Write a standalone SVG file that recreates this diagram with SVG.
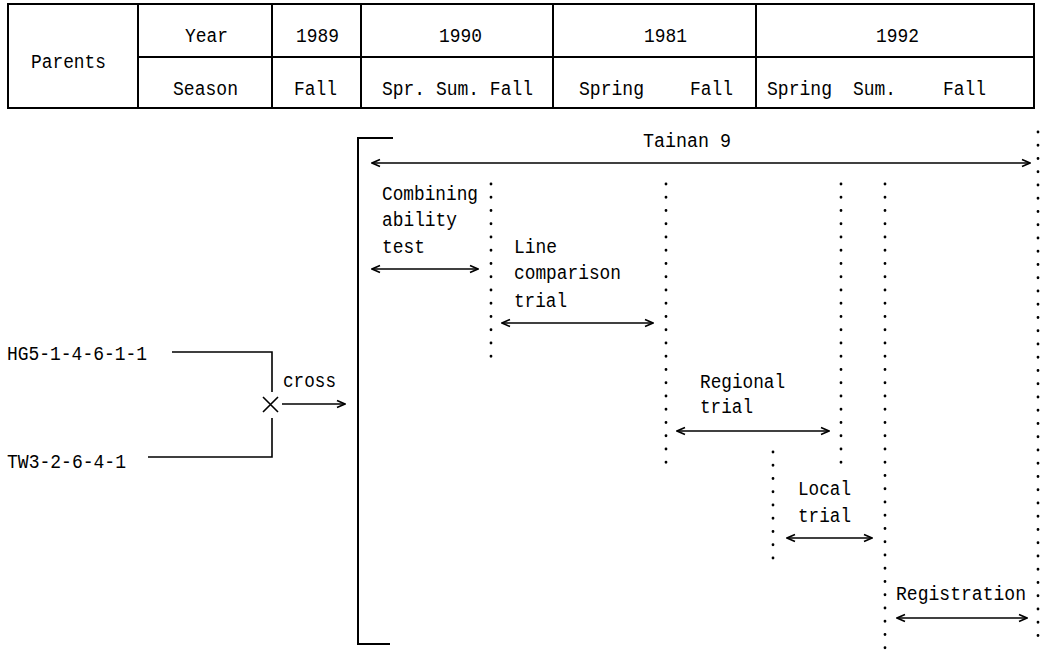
<svg xmlns="http://www.w3.org/2000/svg" width="1042" height="655" viewBox="0 0 1042 655">
<defs>
<style>
text{font-family:"Liberation Mono","DejaVu Sans Mono",monospace;font-size:20px;fill:#000}
.tb{stroke:#000;stroke-width:2;fill:none}
.ln{stroke:#000;stroke-width:1.6;fill:none}
.arr{stroke:#000;stroke-width:1.6;fill:none;marker-start:url(#ah);marker-end:url(#ah)}
.dot{stroke:#000;stroke-width:2.8;stroke-linecap:round;stroke-dasharray:0 13.25;fill:none}
</style>
<marker id="ah" viewBox="0 0 10 10" refX="9" refY="5" markerWidth="10" markerHeight="10" markerUnits="userSpaceOnUse" orient="auto-start-reverse">
<path d="M1,1.5 L9,5 L1,8.5" fill="none" stroke="#000" stroke-width="1.6"/>
</marker>
</defs>
<rect width="1042" height="655" fill="#fff"/>
<g id="table">
<rect class="tb" x="8" y="4" width="1026" height="104"/>
<path class="tb" d="M138,57 H1034 M138,4 V108 M272,4 V108 M361,4 V108 M553,4 V108 M756,4 V108"/>
<text x="31" y="68" textLength="75" lengthAdjust="spacingAndGlyphs">Parents</text>
<text x="185" y="42" textLength="43" lengthAdjust="spacingAndGlyphs">Year</text>
<text x="296" y="42" textLength="43" lengthAdjust="spacingAndGlyphs">1989</text>
<text x="439" y="42" textLength="43" lengthAdjust="spacingAndGlyphs">1990</text>
<text x="644" y="42" textLength="43" lengthAdjust="spacingAndGlyphs">1981</text>
<text x="876" y="42" textLength="43" lengthAdjust="spacingAndGlyphs">1992</text>
<text x="173" y="95" textLength="65" lengthAdjust="spacingAndGlyphs">Season</text>
<text x="294" y="95" textLength="43" lengthAdjust="spacingAndGlyphs">Fall</text>
<text x="382" y="95" textLength="151" lengthAdjust="spacingAndGlyphs">Spr. Sum. Fall</text>
<text x="579" y="95" textLength="65" lengthAdjust="spacingAndGlyphs">Spring</text>
<text x="690" y="95" textLength="43" lengthAdjust="spacingAndGlyphs">Fall</text>
<text x="767" y="95" textLength="65" lengthAdjust="spacingAndGlyphs">Spring</text>
<text x="853" y="95" textLength="43" lengthAdjust="spacingAndGlyphs">Sum.</text>
<text x="943" y="95" textLength="43" lengthAdjust="spacingAndGlyphs">Fall</text>
</g>
<g id="parents">
<text x="7" y="360" textLength="140" lengthAdjust="spacingAndGlyphs">HG5-1-4-6-1-1</text>
<text x="7" y="468" textLength="119" lengthAdjust="spacingAndGlyphs">TW3-2-6-4-1</text>
<text x="283" y="387" textLength="53" lengthAdjust="spacingAndGlyphs">cross</text>
<path class="ln" d="M263,397 L278,412 M278,397 L263,412"/>
</g>
<g id="bracket">
<path class="tb" d="M393,138 H358 V644 H390"/>
</g>
<g id="labels">
<text x="643" y="147" textLength="88" lengthAdjust="spacingAndGlyphs">Tainan 9</text>
<text x="382" y="200" textLength="96" lengthAdjust="spacingAndGlyphs">Combining</text>
<text x="382" y="226" textLength="75" lengthAdjust="spacingAndGlyphs">ability</text>
<text x="382" y="253" textLength="43" lengthAdjust="spacingAndGlyphs">test</text>
<text x="514" y="253" textLength="43" lengthAdjust="spacingAndGlyphs">Line</text>
<text x="514" y="279" textLength="107" lengthAdjust="spacingAndGlyphs">comparison</text>
<text x="514" y="307" textLength="53" lengthAdjust="spacingAndGlyphs">trial</text>
<text x="700" y="388" textLength="85" lengthAdjust="spacingAndGlyphs">Regional</text>
<text x="700" y="413" textLength="53" lengthAdjust="spacingAndGlyphs">trial</text>
<text x="798" y="495" textLength="53" lengthAdjust="spacingAndGlyphs">Local</text>
<text x="798" y="522" textLength="53" lengthAdjust="spacingAndGlyphs">trial</text>
<text x="896" y="600" textLength="130" lengthAdjust="spacingAndGlyphs">Registration</text>
</g>
<g id="dividers">
<line class="dot" x1="491" y1="184" x2="491" y2="358"/>
<line class="dot" x1="666" y1="184" x2="666" y2="464"/>
<line class="dot" x1="841" y1="184" x2="841" y2="464"/>
<line class="dot" x1="885" y1="184" x2="885" y2="648"/>
<line class="dot" x1="773" y1="452" x2="773" y2="571"/>
<line class="dot" x1="1038" y1="132" x2="1038" y2="648"/>
</g>
<g id="connectors">
<path class="ln" d="M172,352 H272 V392 M272,418 V457 H148"/>
<line class="ln" x1="282" y1="404" x2="345" y2="404" marker-end="url(#ah)"/>
<line class="arr" x1="372" y1="163" x2="1030" y2="163"/>
<line class="arr" x1="372" y1="269" x2="478" y2="269"/>
<line class="arr" x1="502" y1="323" x2="653" y2="323"/>
<line class="arr" x1="677" y1="431" x2="829" y2="431"/>
<line class="arr" x1="787" y1="538" x2="872" y2="538"/>
<line class="arr" x1="897" y1="618" x2="1027" y2="618"/>
</g>
</svg>
